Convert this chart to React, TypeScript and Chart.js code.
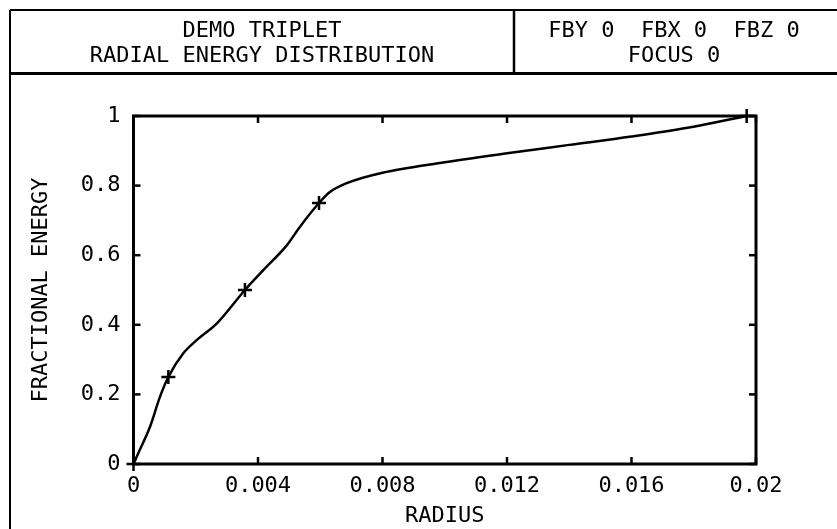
import React, { useEffect, useRef } from "react";
import { Chart, registerables } from "chart.js";

Chart.register(...registerables);

// ---- data ----
const radius = [
  0, 0.0002, 0.00053, 0.00085, 0.00112, 0.0016, 0.00203, 0.00268, 0.00358,
  0.00417, 0.00493, 0.00535, 0.00596, 0.00632, 0.00685, 0.008, 0.01, 0.012,
  0.014, 0.016, 0.0178, 0.0197,
];
const energy = [
  0, 0.04, 0.107, 0.193, 0.25, 0.318, 0.356, 0.404, 0.5, 0.557, 0.629, 0.682,
  0.75, 0.782, 0.807, 0.837, 0.867, 0.893, 0.917, 0.941, 0.966, 1.0,
];
const markerRadius = [0.00112, 0.00358, 0.00596, 0.0197];
const markerEnergy = [0.25, 0.5, 0.75, 1.0];

const xTickValues = [0, 0.004, 0.008, 0.012, 0.016, 0.02];
const xTickLabels = ["0", "0.004", "0.008", "0.012", "0.016", "0.02"];
const yTickValues = [0, 0.2, 0.4, 0.6, 0.8, 1];
const yTickLabels = ["0", "0.2", "0.4", "0.6", "0.8", "1"];

const titleLines = ["DEMO TRIPLET", "RADIAL ENERGY DISTRIBUTION"];
const infoLines = ["FBY 0  FBX 0  FBZ 0", "FOCUS 0"];
const xAxisTitle = "RADIUS";
const yAxisTitle = "FRACTIONAL ENERGY";

const FONT_FAMILY = '"DejaVu Sans Mono", monospace';
const FONT_SIZE = 22;

const framePlugin = {
  id: "plotFrame",
  beforeDraw(chart: any) {
    const ctx = chart.ctx;
    ctx.save();
    ctx.fillStyle = "#ffffff";
    ctx.fillRect(0, 0, chart.width, chart.height);
    ctx.restore();
  },
  afterDraw(chart: any) {
    const { ctx, chartArea: a, scales } = chart;
    const xs = scales.x;
    const ys = scales.y;
    const W = chart.width;
    const H = chart.height;
    const line = (x1: number, y1: number, x2: number, y2: number) => {
      ctx.beginPath();
      ctx.moveTo(x1, y1);
      ctx.lineTo(x2, y2);
      ctx.stroke();
    };
    ctx.save();
    ctx.strokeStyle = "#000";
    ctx.fillStyle = "#000";

    // outer page box and header cells
    ctx.lineWidth = 2;
    line(10, 10, W + 5, 10);
    line(10, 10, 10, H + 5);
    ctx.lineWidth = 3;
    line(10, 73.5, W + 5, 73.5);
    ctx.lineWidth = 2.5;
    line(514, 10, 514, 73.5);

    // header text
    ctx.font = `${FONT_SIZE}px ${FONT_FAMILY}`;
    ctx.textAlign = "center";
    ctx.textBaseline = "alphabetic";
    ctx.fillText(titleLines[0], 262, 37);
    ctx.fillText(titleLines[1], 262, 62);
    ctx.fillText(infoLines[0], 674, 37);
    ctx.fillText(infoLines[1], 674, 62);

    // inward ticks on all four sides
    const tl = 7;
    ctx.lineWidth = 2.5;
    xTickValues.forEach((v) => {
      const px = xs.getPixelForValue(v);
      line(px, a.bottom, px, a.bottom - tl);
      line(px, a.top, px, a.top + tl);
    });
    yTickValues.forEach((v) => {
      const py = ys.getPixelForValue(v);
      line(a.left, py, a.left + tl, py);
      line(a.right, py, a.right - tl, py);
    });
    // small outward ticks at the origin
    line(a.left - 7, a.bottom, a.left, a.bottom);
    line(a.left, a.bottom, a.left, a.bottom + 7);

    // plot frame
    ctx.lineWidth = 3;
    ctx.strokeRect(a.left, a.top, a.right - a.left, a.bottom - a.top);
    ctx.restore();
  },
};

export default function App() {
  const canvasRef = useRef<HTMLCanvasElement | null>(null);

  useEffect(() => {
    if (!canvasRef.current) return;
    const font = { family: FONT_FAMILY, size: FONT_SIZE };
    const chart = new Chart(canvasRef.current, {
      type: "scatter",
      data: {
        datasets: [
          {
            label: "curve",
            data: radius.map((r, i) => ({ x: r, y: energy[i] })),
            showLine: true,
            borderColor: "#000",
            borderWidth: 2.5,
            pointRadius: 0,
            cubicInterpolationMode: "monotone",
            fill: false,
          },
          {
            label: "markers",
            data: markerRadius.map((r, i) => ({ x: r, y: markerEnergy[i] })),
            showLine: false,
            pointStyle: "cross",
            pointRadius: 7,
            borderColor: "#000",
            backgroundColor: "#000",
            borderWidth: 2.5,
            clip: false,
          },
        ],
      } as any,
      options: {
        animation: false,
        responsive: true,
        maintainAspectRatio: false,
        devicePixelRatio: 1,
        layout: { padding: { left: 0, right: 81, top: 116, bottom: 0 } },
        plugins: {
          legend: { display: false },
          tooltip: { enabled: false },
        },
        events: [],
        scales: {
          x: {
            type: "linear",
            min: 0,
            max: 0.02,
            grid: { display: false, drawTicks: false },
            border: { display: false },
            afterBuildTicks: (s: any) => {
              s.ticks = xTickValues.map((v) => ({ value: v }));
            },
            afterFit: (s: any) => {
              s.height = 65;
            },
            ticks: {
              autoSkip: false,
              maxRotation: 0,
              color: "#000",
              font,
              padding: 9,
              callback: (_v: any, i: number) => xTickLabels[i],
            },
            title: {
              display: true,
              text: xAxisTitle,
              color: "#000",
              font,
              padding: { top: 0, bottom: 0 },
            },
          },
          y: {
            type: "linear",
            min: 0,
            max: 1,
            grid: { display: false, drawTicks: false },
            border: { display: false },
            afterBuildTicks: (s: any) => {
              s.ticks = yTickValues.map((v) => ({ value: v }));
            },
            afterFit: (s: any) => {
              s.width = 133.5;
            },
            ticks: {
              autoSkip: false,
              color: "#000",
              font,
              padding: 13,
              callback: (_v: any, i: number) => yTickLabels[i],
            },
            title: {
              display: true,
              text: yAxisTitle,
              color: "#000",
              font,
              padding: { top: 28, bottom: 0 },
            },
          },
        },
      } as any,
      plugins: [framePlugin],
    });
    return () => chart.destroy();
  }, []);

  return (
    <div
      style={{
        position: "absolute",
        left: 0,
        top: 0,
        width: 837,
        height: 529,
        background: "#fff",
      }}
    >
      <canvas ref={canvasRef} />
    </div>
  );
}
